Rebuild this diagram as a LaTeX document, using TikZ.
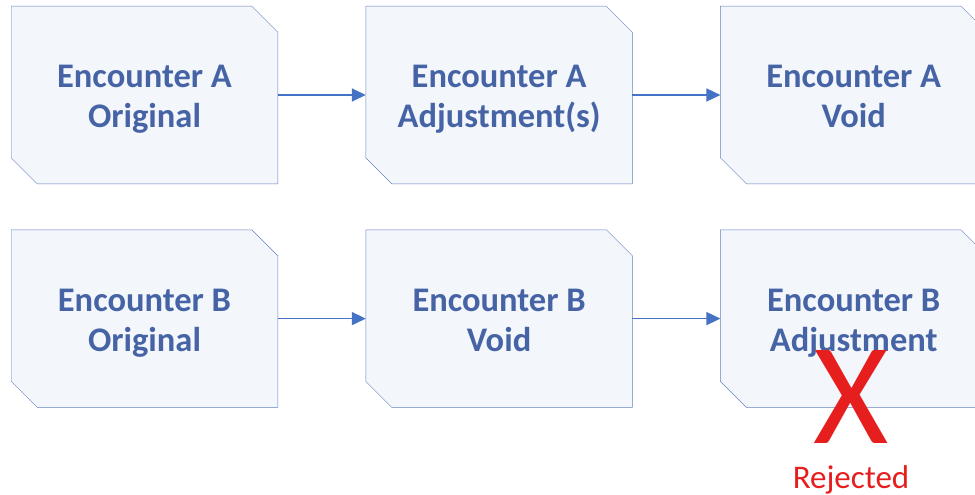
\documentclass[tikz,border=0pt]{standalone}
\usepackage{fontspec}
\setmainfont{Carlito}
\usetikzlibrary{arrows.meta,positioning,backgrounds}
\definecolor{boxline}{RGB}{100,128,190}
\definecolor{boxfill}{RGB}{243,246,251}
\definecolor{boxtext}{RGB}{70,100,165}
\definecolor{arrowblue}{RGB}{68,114,196}
\definecolor{rejectred}{RGB}{230,30,30}
\newcommand{\toprule}{\rule{0pt}{37pt}}

\begin{document}
\begin{tikzpicture}[x=1pt,y=1pt,node distance=88pt,
->,>={Triangle[length=14pt,width=13pt]},line width=1.6pt]
\tikzset{encounter/.style={minimum width=265pt,minimum height=176pt,inner sep=0pt,
align=center,text=boxtext,font=\fontsize{34.5}{40}\selectfont\bfseries}}
\useasboundingbox (0,0) rectangle (975,-495);
\clip (0,0) rectangle (975,-495);

\node[encounter] (a1) at (144.5,-95) {\toprule Encounter A\\Original\strut};
\node[encounter] (a2) [right=of a1] {\toprule Encounter A\\Adjustment(s)\strut};
\node[encounter] (a3) [right=of a2] {\toprule Encounter A\\Void\strut};
\node[encounter] (b1) [below=46pt of a1] {\toprule Encounter B\\Original\strut};
\node[encounter] (b2) [right=of b1] {\toprule Encounter B\\Void\strut};
\node[encounter] (b3) [right=of b2] {\toprule Encounter B\\Adjustment\strut};

% boxes with cut corners
\begin{scope}[on background layer]
\foreach \n in {a1,a2,a3,b1,b2,b3}
  \filldraw[-,draw=boxline,fill=boxfill]
    (\n.north west) -- ([xshift=-26pt]\n.north east) -- ([yshift=-26pt]\n.north east)
    -- (\n.south east) -- ([xshift=26pt]\n.south west) -- ([yshift=26pt]\n.south west)
    -- cycle;
\end{scope}

\draw[arrowblue] (a1) -- (a2);
\draw[arrowblue] (a2) -- (a3);
\draw[arrowblue] (b1) -- (b2);
\draw[arrowblue] (b2) -- (b3);

\node[text=rejectred,font=\fontsize{145}{145}\selectfont,inner sep=0pt] (cross) at (851,-397) {X};
\node[text=rejectred,font=\fontsize{33}{40}\selectfont,inner sep=0pt] (rejected) [below=20pt of cross] {Rejected};
\end{tikzpicture}
\end{document}
